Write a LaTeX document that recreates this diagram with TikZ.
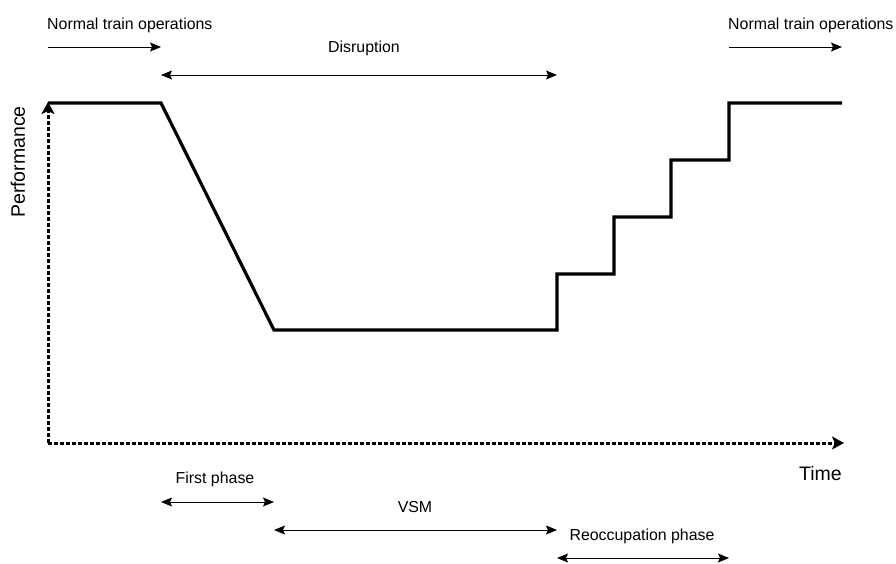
\documentclass[tikz,border=0pt]{standalone}
\usepackage{fontspec}
\setmainfont{Liberation Sans}
\usetikzlibrary{arrows.meta}
\begin{document}
\begin{tikzpicture}[x=1pt,y=-1pt,
  lbl/.style={inner sep=0pt,font=\fontsize{15.9}{18}\selectfont},
  biglbl/.style={inner sep=0pt,font=\fontsize{19.5}{22}\selectfont},
  tip/.style={Stealth[length=11pt,width=9pt,inset=2pt]},
  span/.style={line width=1pt,-{Stealth[length=11pt,width=9pt,inset=2pt]}},
  bispan/.style={line width=1pt,{Stealth[length=11pt,width=9pt,inset=2pt]}-{Stealth[length=11pt,width=9pt,inset=2pt]}},
  curve/.style={line width=3.2pt,line join=miter},
  axis/.style={line width=3pt,dash pattern=on 4pt off 2pt,-{Stealth[length=12pt,width=13pt,inset=3pt]}}]
\useasboundingbox (0,0) rectangle (896,563);

% performance curve corner points
\coordinate (p0) at (48,103);
\coordinate (p1) at (161,103);
\coordinate (p2) at (274,330);
\coordinate (p3) at (557,330);
\coordinate (p4) at (557,274);
\coordinate (p5) at (614,274);
\coordinate (p6) at (614,217);
\coordinate (p7) at (671,217);
\coordinate (p8) at (671,160);
\coordinate (p9) at (729,160);
\coordinate (p10) at (729,103);
\coordinate (p11) at (842,103);
\draw[curve] (p0) -- (p1) -- (p2) -- (p3) -- (p4) -- (p5) -- (p6) -- (p7) -- (p8) -- (p9) -- (p10) -- (p11);

% axes
\coordinate (origin) at (48,443);
\coordinate (ytop) at (48,102);
\coordinate (xend) at (844,443);
\draw[axis] (origin) -- (ytop);
\draw[axis] (origin) -- (xend);
\node[biglbl,rotate=90] (perf) at (18,162) {Performance};
\node[biglbl,anchor=base east] (time) at (842,480) {Time};

% phase spans above the curve
\coordinate (n1a) at (48,47);  \coordinate (n1b) at (161,47);
\coordinate (da) at (161,75);  \coordinate (db) at (557,75);
\coordinate (n2a) at (729,47); \coordinate (n2b) at (842,47);
\draw[span] (n1a) -- (n1b);
\draw[bispan] (da) -- (db);
\draw[span] (n2a) -- (n2b);
\node[lbl,anchor=base west] (ntoL) at (47,29) {Normal train operations};
\node[lbl,anchor=base] (disr) at (364,52) {Disruption};
\node[lbl,anchor=base west] (ntoR) at (728,29) {Normal train operations};

% phase spans below the axis
\coordinate (fa) at (161,502); \coordinate (fb) at (274,502);
\coordinate (va) at (274,530); \coordinate (vb) at (557,530);
\coordinate (ra) at (557,558); \coordinate (rb) at (729,558);
\draw[bispan] (fa) -- (fb);
\draw[bispan] (va) -- (vb);
\draw[bispan] (ra) -- (rb);
\node[lbl,anchor=base] (first) at (215,483) {First phase};
\node[lbl,anchor=base] (vsm) at (415,512) {VSM};
\node[lbl,anchor=base] (reocc) at (642,540) {Reoccupation phase};
\end{tikzpicture}
\end{document}
